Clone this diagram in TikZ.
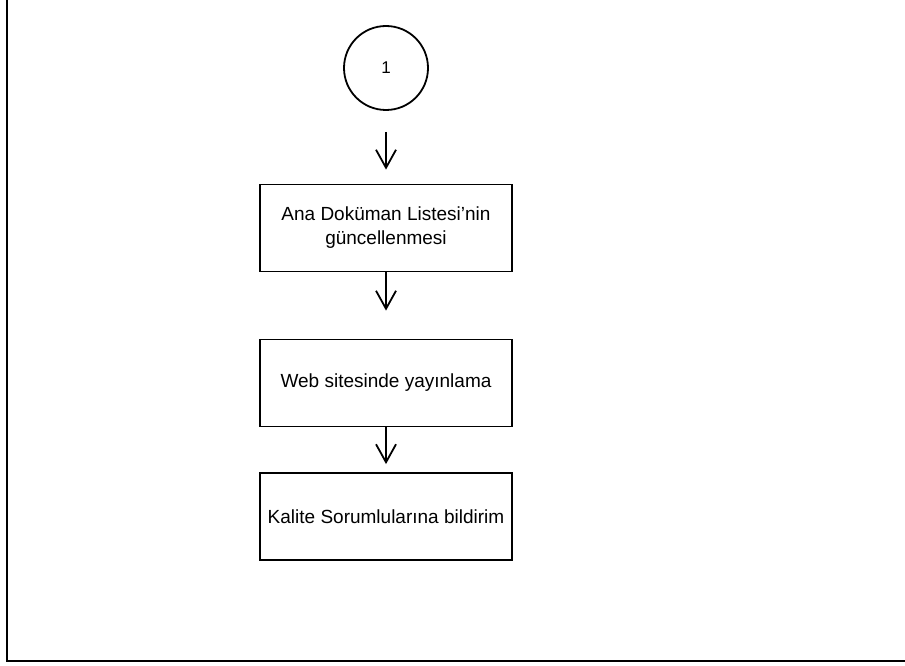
\documentclass[tikz,border=0pt]{standalone}
\usepackage{fontspec}
\setmainfont{Liberation Sans}
\usetikzlibrary{arrows.meta}
\begin{document}
\begin{tikzpicture}[x=1pt,y=-1pt,
  stepbox/.style={draw, line width=1.8pt, minimum width=252pt, minimum height=87pt, inner sep=0pt, align=center, font=\fontsize{19}{24}\selectfont},
  conn/.style={draw, line width=1.8pt, circle, minimum size=84pt, inner sep=0pt, font=\fontsize{17}{20}\selectfont},
  arr/.style={line width=1.8pt, -{Straight Barb[length=18pt, width=20pt]}}]
\useasboundingbox (0,0) rectangle (905,666);
\draw[line width=2pt] (7,-2) -- (7,661) -- (907,661);
\node[conn] (c) at (386,68) {1};
\node[stepbox] (b1) at (386,228) {Ana Doküman Listesi’nin\\güncellenmesi};
\node[stepbox] (b2) at (386,383) {Web sitesinde yayınlama};
\node[stepbox] (b3) at (386,516.5) {Kalite Sorumlularına bildirim};
\draw[arr, shorten <=21pt, shorten >=14pt] (c) -- (b1);
\draw[arr, shorten >=28pt] (b1) -- (b2);
\draw[arr, shorten >=8pt] (b2) -- (b3);
\end{tikzpicture}
\end{document}
